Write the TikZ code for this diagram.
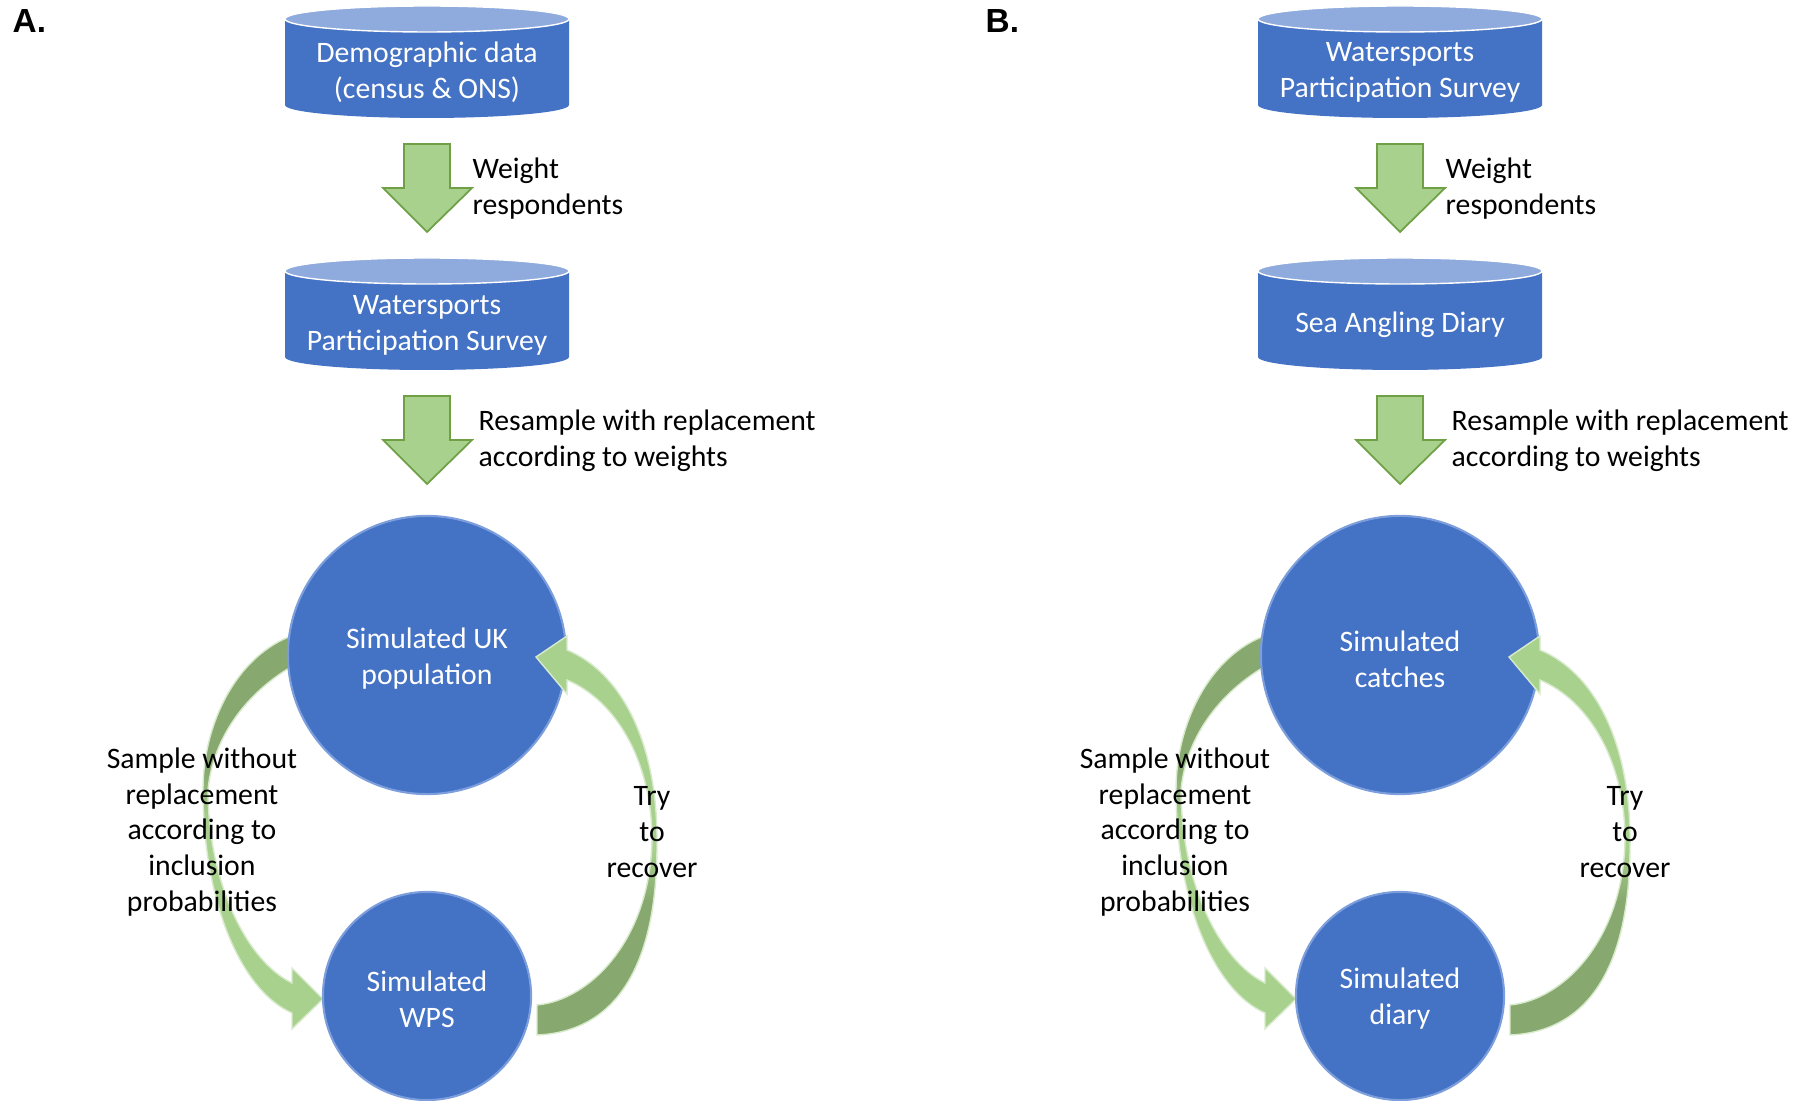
\documentclass[tikz,border=0pt]{standalone}
\usepackage{fontspec}
\setmainfont{Carlito}
\newfontfamily\panelfont{Liberation Sans}
\usepackage{tikz}
\usetikzlibrary{calc}

\definecolor{dbblue}{HTML}{4472C4}
\definecolor{dbtop}{HTML}{8FAADC}
\definecolor{circedge}{HTML}{7C9EDC}
\definecolor{lightgreen}{HTML}{A9D18E}
\definecolor{darkgreen}{HTML}{87A86F}
\definecolor{edgegreen}{HTML}{6FA046}

% curved block arrows (pixel units of the picture)
\newcommand{\samplearc}{(300,633) .. controls (240,650) and (203,720) .. (203,790)
  .. controls (203,900) and (240,990) .. (292,1013) -- (292,1029) -- (323,999)
  -- (292,968) -- (292,983) .. controls (245,960) and (208,880) .. (208,790)
  .. controls (213,735) and (250,688) .. (300,662) -- cycle}
\newcommand{\recoverarc}{(537,1035) .. controls (610,1032) and (658,975) .. (657,840)
  .. controls (657,740) and (620,672) .. (567,650) -- (567,636) -- (536,657)
  -- (567,694) -- (567,680) .. controls (615,700) and (652,760) .. (652,840)
  .. controls (650,940) and (590,1000) .. (537,1005) -- cycle}

\begin{document}
\begin{tikzpicture}[x=0.01cm,y=-0.01cm,
    txt/.style={font=\fontsize{8.45}{10.2}\selectfont,inner sep=0pt,align=center},
    intxt/.style={txt,text=white},
    simcirc/.style={circle,fill=dbblue,draw=circedge,line width=0.6pt,inner sep=0pt},
    blockarrow/.style={fill=lightgreen,draw=edgegreen,line width=0.5pt,line join=miter},
    arcedge/.style={draw=white!55!lightgreen,line width=0.4pt}]
\useasboundingbox (0,0) rectangle (1798,1101);

\foreach \dx/\p/\dbone/\dbtwo/\simbig/\simsmall in {%
    0/A/{Demographic data\\(census \& ONS)}/{Watersports\\Participation Survey}/{Simulated UK\\population}/{Simulated\\WPS},%
    973/B/{Watersports\\Participation Survey}/{Sea Angling Diary}/{Simulated\\catches}/{Simulated\\diary}}
{
\begin{scope}[shift={(\dx,0)}]
    % panel letter
    \node[font=\panelfont\bfseries\fontsize{9.5}{10}\selectfont,anchor=base west,inner sep=0pt]
        (tag-\p) at (12,33) {\p.};

    % data sets
    \foreach \yt in {19,271}
    {
        \fill[dbblue] (285,\yt) -- (285,\yt+86) arc[start angle=180,end angle=0,x radius=142,y radius=13] -- (569,\yt) -- cycle;
        \filldraw[fill=dbtop,draw=white,line width=0.4pt] (427,\yt) ellipse[x radius=142,y radius=13];
    }
    \node[intxt] (db1-\p) at (427,72) {\dbone};
    \node[intxt] (db2-\p) at (427,325) {\dbtwo};

    % weighting steps
    \foreach \ya in {144,396}
        \draw[blockarrow] (404,\ya) -- ++(46,0) -- ++(0,44) -- ++(22,0) -- ++(-45,44) -- ++(-44,-44) -- ++(21,0) -- cycle;
    \node[txt,anchor=west,align=left] (wt-\p) at (472,189) {Weight\\respondents};
    \node[txt,anchor=west,align=left] (rs-\p) at (478,441) {Resample with replacement\\according to weights};

    % sampling arrow (goes behind the population)
    \begin{scope}
        \clip \samplearc;
        \fill[darkgreen] (150,600) rectangle (350,772);
        \shade[top color=darkgreen,bottom color=lightgreen] (150,770) rectangle (350,822);
        \fill[lightgreen] (150,820) rectangle (350,1050);
    \end{scope}
    \draw[arcedge] \samplearc;

    % simulated population and sample
    \node[simcirc,minimum size=2.78cm] (pop-\p) at (427,655) {};
    \node[simcirc,minimum size=2.08cm] (sim-\p) at (427,996) {};
    \node[intxt] (popname-\p) at (427,659) {\simbig};
    \node[intxt] (simname-\p) at (427,999) {\simsmall};

    % recovery arrow
    \begin{scope}
        \clip \recoverarc;
        \fill[lightgreen] (500,600) rectangle (700,852);
        \shade[top color=lightgreen,bottom color=darkgreen] (500,850) rectangle (700,902);
        \fill[darkgreen] (500,900) rectangle (700,1050);
    \end{scope}
    \draw[arcedge] \recoverarc;

    \node[txt] (sw-\p) at (202,832) {Sample without\\replacement\\according to\\inclusion\\probabilities};
    \node[txt] (try-\p) at (652,832) {Try\\to\\recover};
\end{scope}
}
\end{tikzpicture}
\end{document}
